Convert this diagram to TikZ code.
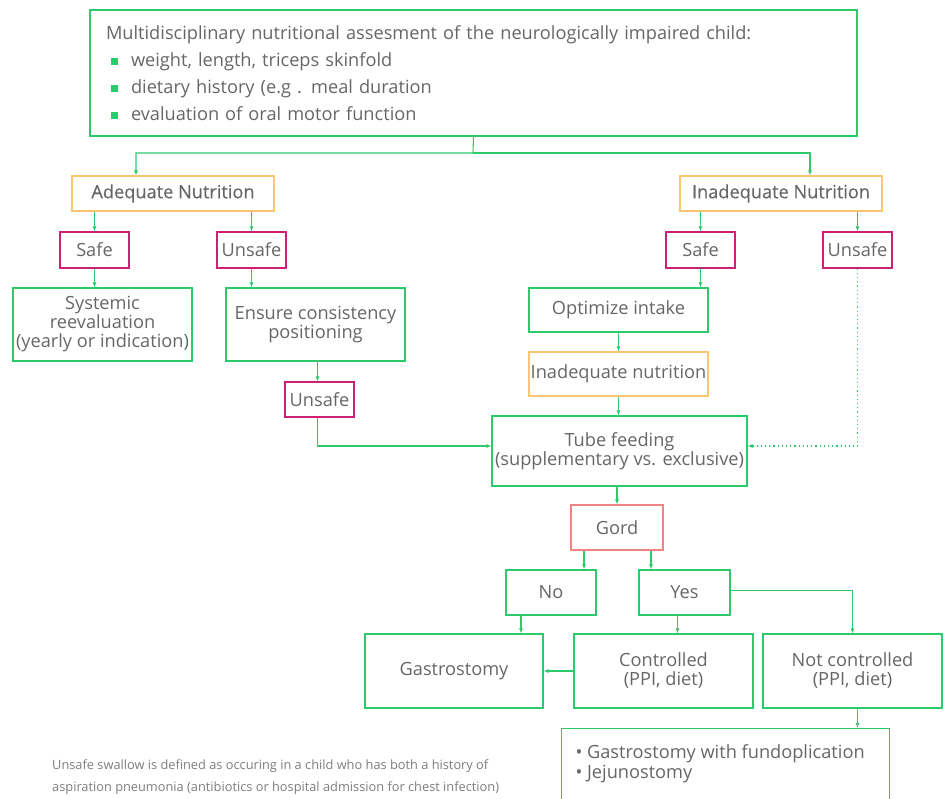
\documentclass[tikz,border=0pt]{standalone}
\usepackage{fontspec}
\setmainfont{Open Sans}
\newfontfamily\medfont[FakeBold=0.3]{Open Sans}
\usetikzlibrary{arrows.meta}
\definecolor{boxgreen}{HTML}{2BCB6B}
\definecolor{boxorange}{HTML}{FCC56E}
\definecolor{boxpink}{HTML}{CC1F76}
\definecolor{boxred}{HTML}{F08484}
\definecolor{txtgray}{HTML}{666666}
\newcommand{\bulsq}{{\color{boxgreen}\raisebox{1pt}{\rule{7pt}{7pt}}}}

\begin{document}
\begin{tikzpicture}[x=1pt,y=-1pt,
    every node/.style={text=txtgray, font=\fontsize{18.2}{19}\selectfont},
    box/.style={draw, line width=1.1pt, inner sep=0pt, align=center},
    gbox/.style={box, draw=boxgreen},
    obox/.style={box, draw=boxorange},
    pbox/.style={box, draw=boxpink},
    rbox/.style={box, draw=boxred},
    link/.style={draw=boxgreen, line width=1.1pt, -{Latex[length=5pt,width=4pt]}}]
  \useasboundingbox (0,0) rectangle (947,798);
  \clip (0,0) rectangle (947,798);
  \node[gbox, minimum width=767, minimum height=126, text width=735, align=left,
        font=\fontsize{18.2}{27}\selectfont] (assess) at (473.5,73)
    {Multidisciplinary nutritional assesment of the neurologically impaired child:\\
     \hspace*{5pt}\bulsq\hspace{13pt}weight, length, triceps skinfold\\
     \hspace*{5pt}\bulsq\hspace{13pt}dietary history (e.g . meal duration\\
     \hspace*{5pt}\bulsq\hspace{13pt}evaluation of oral motor function};
  \coordinate (split) at (473,153);
  \node[obox, minimum width=202, minimum height=35, font=\fontsize{18.2}{19}\medfont] (adeq) at (173,193.5) {Adequate Nutrition};
  \node[obox, minimum width=202, minimum height=35, font=\fontsize{18.2}{19}\medfont] (inadeq) at (781,193.5) {Inadequate Nutrition};
  \node[pbox, minimum width=69, minimum height=36] (safeL) at (94.5,250) {Safe};
  \node[pbox, minimum width=69, minimum height=36] (unsafeL) at (251.5,250) {Unsafe};
  \node[pbox, minimum width=69, minimum height=36] (safeR) at (700.5,250) {Safe};
  \node[pbox, minimum width=69, minimum height=36] (unsafeR) at (857.5,250) {Unsafe};
  \node[gbox, minimum width=179, minimum height=73] (syst) at (102.5,324.5) {Systemic\\reevaluation\\(yearly or indication)};
  \node[gbox, minimum width=179, minimum height=73] (ensure) at (315.5,324.5) {Ensure consistency\\positioning};
  \node[pbox, minimum width=69, minimum height=35] (unsafeM) at (319.5,399.5) {Unsafe};
  \node[gbox, minimum width=179, minimum height=44] (optim) at (618.5,310) {Optimize intake};
  \node[obox, minimum width=179, minimum height=44] (inadtwo) at (618.5,374) {Inadequate nutrition};
  \node[gbox, minimum width=255, minimum height=70] (tube) at (619.5,451) {Tube feeding\\(supplementary vs. exclusive)};
  \node[rbox, minimum width=92, minimum height=45] (gord) at (617,527.5) {Gord};
  \node[gbox, minimum width=90, minimum height=45] (no) at (551,592.5) {No};
  \node[gbox, minimum width=91, minimum height=45] (yes) at (684.5,592.5) {Yes};
  \node[gbox, minimum width=178, minimum height=74] (gastro) at (454,671) {Gastrostomy};
  \node[gbox, minimum width=179, minimum height=74] (ctrl) at (663.5,671) {Controlled\\(PPI, diet)};
  \node[gbox, minimum width=179, minimum height=74] (notctrl) at (852.5,671) {Not controlled\\(PPI, diet)};
  \node[gbox, anchor=north west, minimum width=328, inner xsep=14pt, align=left, font=\fontsize{18.2}{20}\selectfont] (final) at (561,728)
    {\parbox[t][100pt][t]{300pt}{\vspace*{16pt}\textbullet\ Gastrostomy with fundoplication\\\textbullet\ Jejunostomy}};
  \node[anchor=north west, inner sep=0pt, align=left, text=txtgray!85, font=\fontsize{12.8}{22}\selectfont] (note) at (52,759)
    {Unsafe swallow is defined as occuring in a child who has both a history of\\
     aspiration pneumonia (antibiotics or hospital admission for chest infection)};
  \begin{scope}[link]
    \draw (assess.south) -- (split) -| ([xshift=-37pt]adeq.north);
    \draw (split) -| ([xshift=29pt]inadeq.north);
    \draw (safeL.north |- adeq.south) -- (safeL.north);
    \draw (unsafeL.north |- adeq.south) -- (unsafeL.north);
    \draw (safeL.south) -- (safeL.south |- syst.north);
    \draw (unsafeL.south) -- (unsafeL.south |- ensure.north);
    \draw ([xshift=-2pt]unsafeM.north |- ensure.south) -- ([xshift=-2pt]unsafeM.north);
    \draw ([xshift=-2pt]unsafeM.south) |- ([yshift=5pt]tube.west);
    \draw (safeR.north |- inadeq.south) -- (safeR.north);
    \draw (unsafeR.north |- inadeq.south) -- (unsafeR.north);
    \draw (safeR.south) -- (safeR.south |- optim.north);
    \draw (optim.south) -- (inadtwo.north);
    \draw (inadtwo.south) -- (inadtwo.south |- tube.north);
    \draw[dash pattern=on 1.2pt off 3pt] (unsafeR.south) |- ([yshift=5pt]tube.east);
    \draw (tube.south -| gord.north) -- (gord.north);
    \draw ([xshift=-33pt]gord.south) -- ([xshift=-33pt]gord.south |- no.north);
    \draw ([xshift=34pt]gord.south) -- ([xshift=34pt]gord.south |- yes.north);
    \draw ([xshift=-30pt]no.south) -- ([xshift=-30pt]no.south |- gastro.north);
    \draw ([xshift=-7pt]yes.south) -- ([xshift=-7pt]yes.south |- ctrl.north);
    \draw ([yshift=2pt]yes.east) -| (notctrl.north);
    \draw (ctrl.west) -- (gastro.east);
    \draw ([xshift=5pt]notctrl.south) -- ([xshift=5pt]notctrl.south |- final.north);
  \end{scope}
\end{tikzpicture}
\end{document}
